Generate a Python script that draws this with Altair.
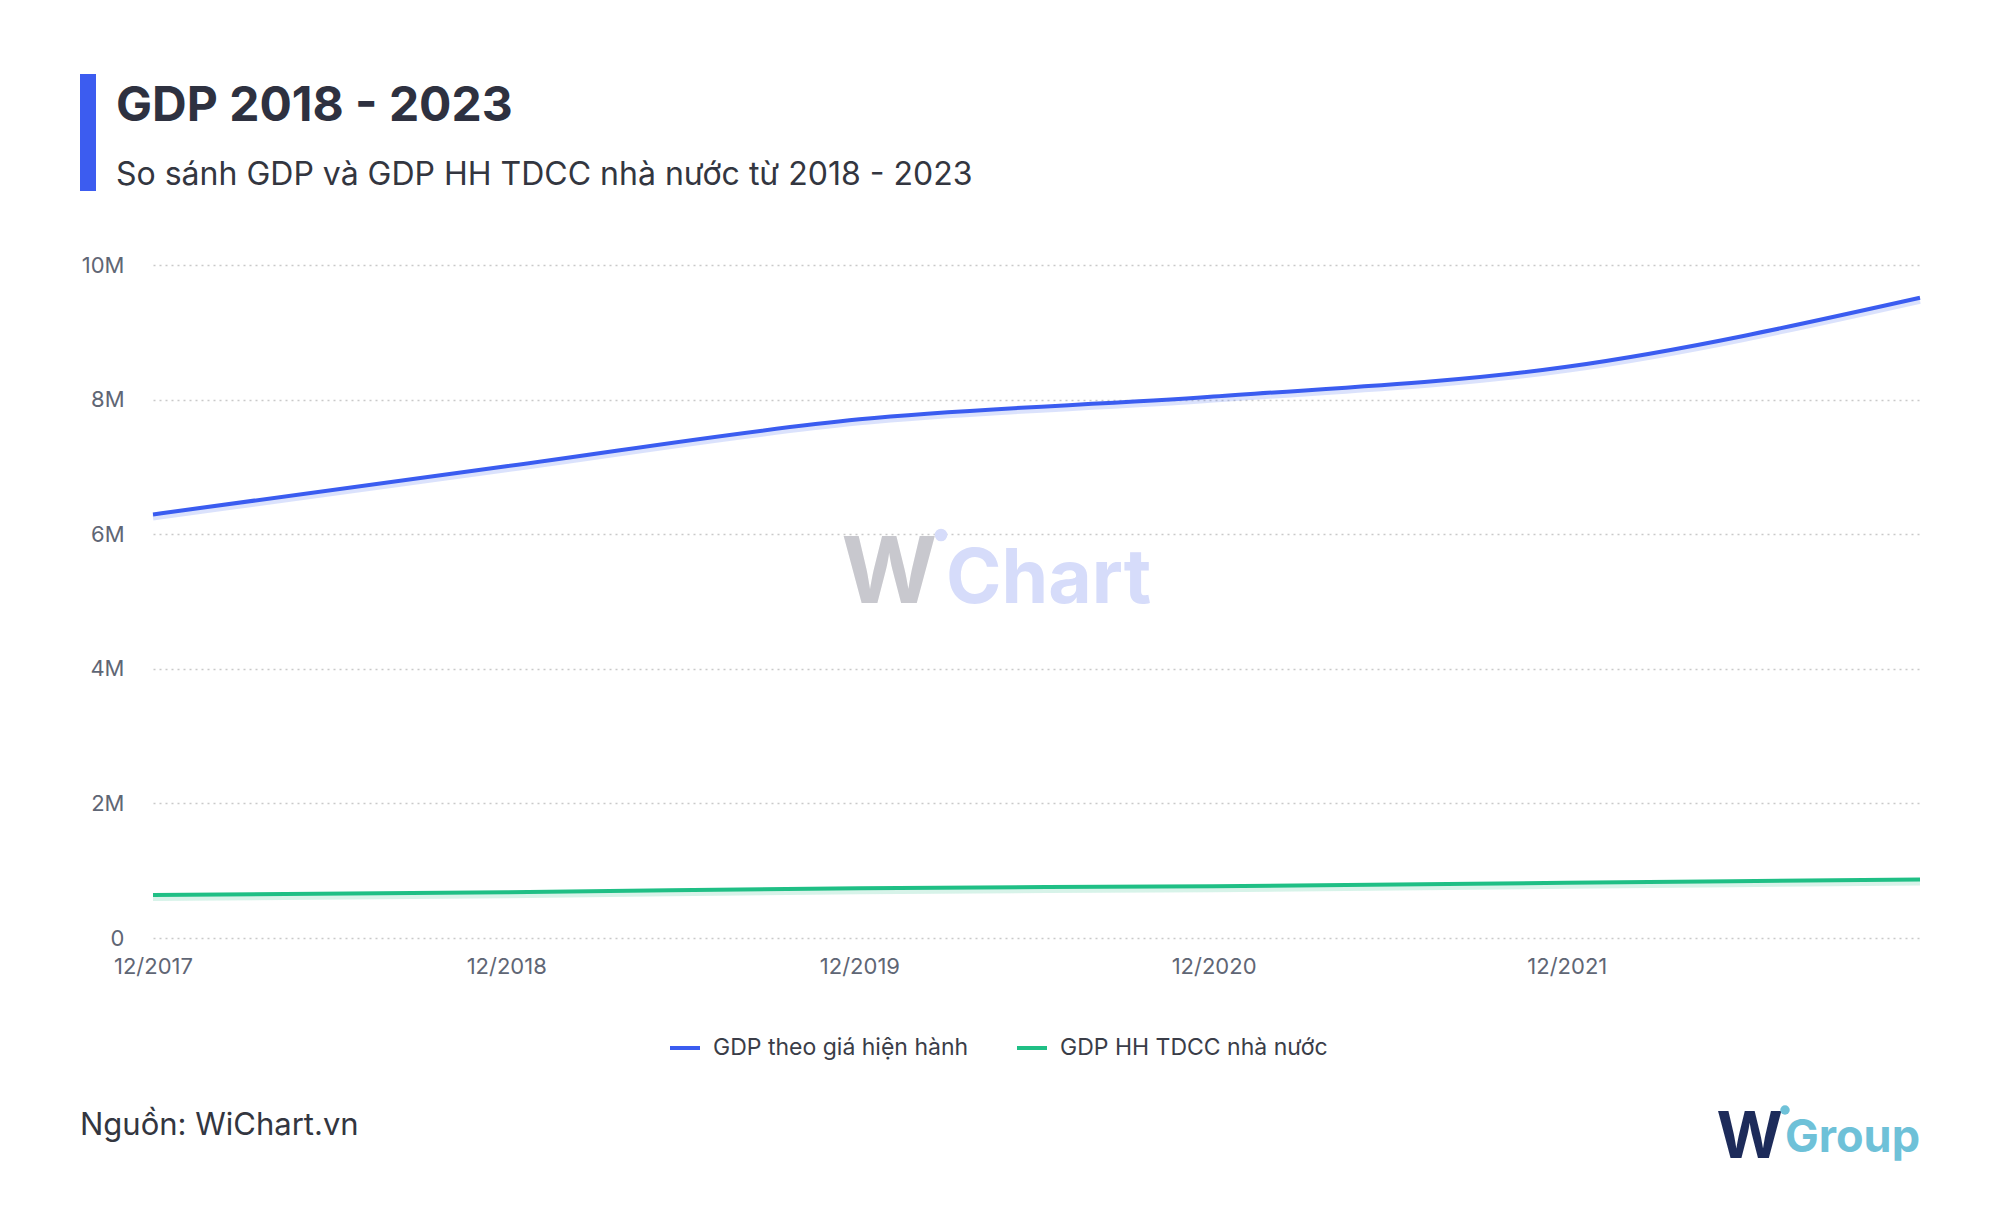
import altair as alt
import pandas as pd

# ---- data ----
dates = ["2017-12-01T00:00:00", "2018-12-01T00:00:00", "2019-12-01T00:00:00",
         "2020-12-01T00:00:00", "2021-12-01T00:00:00", "2022-12-01T00:00:00"]
gdp_total = [6293905, 7009042, 7707200, 8044386, 8487475, 9513327]
gdp_state = [640000, 680000, 740000, 770000, 820000, 870000]
series_names = ["GDP theo giá hiện hành", "GDP HH TDCC nhà nước"]
series_colors = ["#3a5cf0", "#1fbf85"]
y_ticks = [0, 2000000, 4000000, 6000000, 8000000, 10000000]
x_tick_years = [2017, 2018, 2019, 2020, 2021]

title_text = "GDP 2018 - 2023"
subtitle_text = "So sánh GDP và GDP HH TDCC nhà nước từ 2018 - 2023"
source_text = "Nguồn: WiChart.vn"

rows = []
for d, v in zip(dates, gdp_total):
    rows.append({"date": d, "value": v, "series": series_names[0]})
for d, v in zip(dates, gdp_state):
    rows.append({"date": d, "value": v, "series": series_names[1]})
df = pd.DataFrame(rows)

FONT = "Inter"

x_enc = alt.X(
    "date:T",
    scale=alt.Scale(domain=[alt.DateTime(year=2017, month=12, date=1),
                            alt.DateTime(year=2022, month=12, date=1)]),
    axis=alt.Axis(
        values=[alt.DateTime(year=y, month=12, date=1) for y in x_tick_years],
        format="%m/%Y", title=None, grid=False, ticks=False, domain=False,
        labelFlush=False, labelFont=FONT, labelFontSize=22, labelColor="#5f6675",
        labelPadding=18,
    ),
)
y_enc = alt.Y(
    "value:Q",
    scale=alt.Scale(domain=[0, 10000000], nice=False),
    axis=alt.Axis(
        values=y_ticks, title=None, ticks=False, domain=False,
        labelExpr="datum.value == 0 ? '0' : (datum.value / 1000000) + 'M'",
        labelFont=FONT, labelFontSize=22, labelColor="#5f6675", labelPadding=29,
        grid=True, gridColor="#c9c9c9", gridDash=[2, 4], gridWidth=1.5,
    ),
)
color_scale = alt.Scale(domain=series_names, range=series_colors)
legend_def = alt.Legend(
    orient="none", legendX=515, legendY=766, direction="horizontal",
    title=None, labelFont=FONT, labelFontSize=23, labelColor="#3a3d48",
    labelLimit=600, symbolType="stroke", symbolStrokeWidth=4, symbolSize=900,
    symbolOpacity=1, labelOffset=11, columnPadding=40,
)
color_enc = alt.Color("series:N", scale=color_scale, sort=series_names, legend=legend_def)

shadow = alt.Chart(df).mark_line(
    strokeWidth=6, interpolate="monotone", yOffset=3, opacity=0.18
).encode(x=x_enc, y=y_enc, color=color_enc)

lines = alt.Chart(df).mark_line(strokeWidth=4, interpolate="monotone").encode(
    x=x_enc, y=y_enc, color=color_enc,
)


def text_layer(txt, x, y, size, color, weight="normal", align="left", opacity=1.0):
    return alt.Chart(pd.DataFrame({"t": [txt]})).mark_text(
        font=FONT, fontSize=size, fontWeight=weight, color=color,
        align=align, baseline="alphabetic", opacity=opacity,
    ).encode(x=alt.value(x), y=alt.value(y), text="t:N")


dummy = pd.DataFrame({"k": [0]})

accent_bar = alt.Chart(dummy).mark_rect(color="#3c5cf0").encode(
    x=alt.value(-73), x2=alt.value(-57), y=alt.value(-191), y2=alt.value(-74)
)

title = text_layer(title_text, -37, -144, 48, "#2e3140", weight="bold")
subtitle = text_layer(subtitle_text, -37, -80, 32, "#333640")
source = text_layer(source_text, -73, 870, 31, "#333640")

# watermark
wm_w = text_layer("W", 784, 338, 92, "#c8c8ce", weight="bold", align="right")
wm_chart = text_layer("Chart", 793, 338, 75, "#d6dcfa", weight="bold")
wm_dot = alt.Chart(dummy).mark_circle(color="#d6dcfa", opacity=1, size=160).encode(
    x=alt.value(788), y=alt.value(270)
)

# logo
logo_w = text_layer("W", 1630, 893, 64, "#1d2b5a", weight="bold", align="right")
logo_group = text_layer("Group", 1767, 887, 45, "#6ec1d8", weight="bold", align="right")
logo_dot = alt.Chart(dummy).mark_circle(color="#6ec1d8", opacity=1, size=90).encode(
    x=alt.value(1632), y=alt.value(845)
)

chart = alt.layer(
    wm_w, wm_chart, wm_dot, shadow, lines,
    accent_bar, title, subtitle, source, logo_w, logo_group, logo_dot,
).properties(
    width=1767, height=673,
    autosize=alt.AutoSizeParams(type="none"),
    padding={"left": 145, "top": 257, "right": 72, "bottom": 271},
    background="white",
).configure_view(stroke=None)

chart.save("out.html", embed_options={"renderer": "svg", "actions": False})
